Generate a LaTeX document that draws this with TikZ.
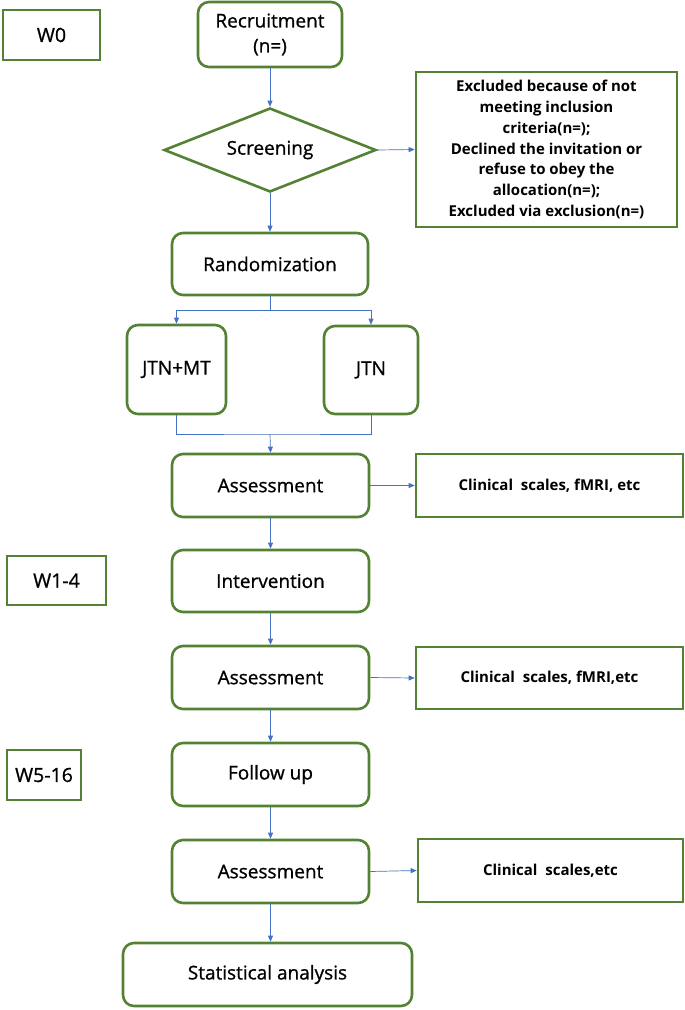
\documentclass[tikz,border=0pt]{standalone}
\usepackage{fontspec}
\setmainfont{Open Sans}
\newfontfamily\medfont[FakeBold=0.9]{Open Sans}
\usetikzlibrary{shapes.geometric,arrows.meta}
\definecolor{gboxc}{HTML}{548235}
\definecolor{arrc}{HTML}{4472C4}
\begin{document}
\begin{tikzpicture}[x=1pt,y=-1pt,
  rbox/.style={draw=gboxc,line width=2.6pt,rounded corners=11pt,align=center,inner sep=0pt,font=\medfont\fontsize{19}{25}\selectfont},
  sbox/.style={draw=gboxc,line width=2.6pt,align=center,inner sep=0pt},
  wbox/.style={sbox,font=\medfont\fontsize{19.5}{22}\selectfont},
  cbox/.style={sbox,font=\fontsize{15}{18}\selectfont\bfseries},
  conn/.style={draw=arrc,line width=0.7pt,-{Triangle[length=6pt,width=5pt]}},
  line/.style={draw=arrc,line width=0.7pt}]
\useasboundingbox (0,0) rectangle (685,1010);
% week labels
\node[wbox,minimum width=97pt,minimum height=50pt] (w0) at (51.5,35) {W0};
\node[wbox,minimum width=99pt,minimum height=49pt] (w14) at (56.5,580.5) {W1-4};
\node[wbox,minimum width=74pt,minimum height=50pt] (w516) at (44,775) {W5-16};
% main column
\node[rbox,minimum width=144pt,minimum height=65pt] (rec) at (270,34.5) {Recruitment\\(n=)};
\node[draw=gboxc,line width=2.6pt,diamond,aspect=2.52,minimum width=212pt,minimum height=84pt,inner sep=0pt,font=\medfont\fontsize{19}{22}\selectfont] (scr) at (270,150) {Screening};
\node[sbox,minimum width=261pt,minimum height=155pt,font=\fontsize{15}{20.8}\selectfont\bfseries] (exc) at (546.5,149.5) {Excluded because of not\\meeting inclusion\\criteria(n=);\\Declined the invitation or\\refuse to obey the\\allocation(n=);\\Excluded via exclusion(n=)};
\node[rbox,minimum width=196pt,minimum height=62pt] (ran) at (270,264) {Randomization};
\node[rbox,minimum width=99pt,minimum height=89pt] (jtnmt) at (176.5,369.5) {JTN+MT};
\node[rbox,minimum width=94pt,minimum height=88pt] (jtn) at (371,370) {JTN};
\node[rbox,minimum width=197pt,minimum height=63pt] (as1) at (270.5,485.5) {Assessment};
\node[cbox,minimum width=267pt,minimum height=63pt] (cl1) at (549.5,485.5) {Clinical\ \ scales, fMRI, etc};
\node[rbox,minimum width=197pt,minimum height=62pt] (int) at (270.5,581) {Intervention};
\node[rbox,minimum width=197pt,minimum height=63pt] (as2) at (270.5,677.5) {Assessment};
\node[cbox,minimum width=267pt,minimum height=62pt] (cl2) at (549.5,678) {Clinical\ \ scales, fMRI,etc};
\node[rbox,minimum width=197pt,minimum height=63pt] (fol) at (270.5,774.5) {Follow up};
\node[rbox,minimum width=197pt,minimum height=63pt] (as3) at (270.5,871.5) {Assessment};
\node[cbox,minimum width=265pt,minimum height=63pt] (cl3) at (550.5,870.5) {Clinical\ \ scales,etc};
\node[rbox,minimum width=289pt,minimum height=63pt] (sta) at (267.5,974.5) {Statistical analysis};
% connectors
\draw[conn] (rec.south) -- (scr.north);
\draw[conn] (scr.east) -- (exc.west);
\draw[conn] (scr.south) -- (ran.north);
\coordinate (split) at (270,310);
\draw[line] (ran.south) -- (split);
\draw[conn] (split) -| (jtnmt.north);
\draw[conn] (split) -| (jtn.north);
\coordinate (merge) at (270,434);
\draw[line] (jtnmt.south) |- (merge) -| (jtn.south);
\draw[conn] (merge) -- (as1.north);
\draw[conn] (as1.east) -- (cl1.west);
\draw[conn] (as1.south) -- (int.north);
\draw[conn] (int.south) -- (as2.north);
\draw[conn] (as2.east) -- (cl2.west);
\draw[conn] (as2.south) -- (fol.north);
\draw[conn] (fol.south) -- (as3.north);
\draw[conn] (as3.east) -- (cl3.west);
\draw[conn] (as3.south) -- (sta.north -| as3.south);
\end{tikzpicture}
\end{document}
